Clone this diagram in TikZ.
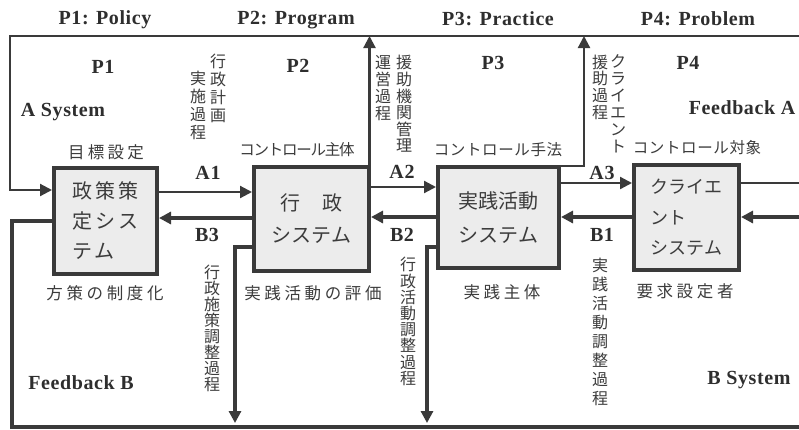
\documentclass[tikz,border=0pt]{standalone}
\usepackage{fontspec}
\setmainfont{Liberation Serif}[LetterSpace=3]
\newfontfamily\jp{Noto Sans CJK JP}
\usetikzlibrary{arrows.meta}
\definecolor{ln}{HTML}{3A3A3A}
\definecolor{bx}{HTML}{ECECEC}
\definecolor{tx}{HTML}{2E2E2E}
\definecolor{jt}{HTML}{3C3C3C}
\begin{document}
\begin{tikzpicture}[x=1pt,y=-1pt,
  every node/.style={inner sep=0pt},
  lab/.style={font=\fontsize{20}{22}\selectfont\bfseries, text=tx},
  jl/.style={font=\jp\fontsize{16.5}{18}\selectfont\addfontfeature{LetterSpace=#1}, text=jt},
  jl/.default=0,
  jk/.style={font=\jp\fontsize{15.5}{18}\selectfont\addfontfeature{LetterSpace=#1}, text=jt},
  vt/.style={font=\jp\fontsize{16}{#1}\selectfont, text=jt, align=center},
  sysbox/.style={draw=ln, line width=4pt, fill=bx},
  bxt/.style={font=\jp\fontsize{20}{#1}\selectfont, text=jt, align=left},
  thinln/.style={draw=ln, line width=2.2pt},
  thickln/.style={draw=ln, line width=4.5pt},
  arr/.style={-{Triangle[length=12pt,width=12pt]}},
]
\fill[white] (0,0) rectangle (799,429);
\useasboundingbox (0,0) rectangle (799,429);

% boxes
\node[sysbox, minimum width=103pt, minimum height=106pt, align=left,
  font=\jp\fontsize{20}{30}\selectfont\addfontfeature{LetterSpace=17}, text=jt] (b1) at (105.5,221) {政策策\\定シス\\テム};
\node[sysbox, minimum width=115pt, minimum height=104pt, bxt=32, align=center] (b2) at (311.5,219) {行\hspace{1.1em}政\\システム};
\node[sysbox, minimum width=121pt, minimum height=101pt, bxt=34, align=center] (b3) at (498.5,217.5) {実践活動\\システム};
\node[sysbox, minimum width=105pt, minimum height=105pt, align=left,
  font=\jp\fontsize{18}{30.5}\selectfont, text=jt] (b4) at (686.5,217.5) {クライエ\\ント\\システム};

% top loop
\coordinate (tr) at (799,36);
\coordinate (tl) at (10,36);
\draw[thinln, arr] (tr) -- (tl) |- (b1.west |- 0,190);
\draw[thinln, arr] ([xshift=-1.5pt]b2.north east) -- ([xshift=-1.5pt]b2.north east |- tr);
\coordinate (c3) at (584,36);
\draw[thinln, arr] ([yshift=-1pt]b3.north east) -| (c3);

% A arrows
\draw[thinln, arr] (b1.east |- 0,192) -- (b2.west |- 0,192);
\draw[thinln, arr] (b2.east |- 0,187) -- (b3.west |- 0,187);
\draw[thinln, arr] (b3.east |- 0,183) -- (b4.west |- 0,183);
\coordinate (r1) at (799,183);
\draw[thinln] (b4.east |- r1) -- (r1);

% B arrows
\draw[thickln, arr] (b2.west |- 0,218) -- (b1.east |- 0,218);
\draw[thickln, arr] (b3.west |- 0,217) -- (b2.east |- 0,217);
\draw[thickln, arr] (b4.west |- 0,217) -- (b3.east |- 0,217);
\coordinate (r2) at (799,217);
\draw[thickln, arr] (r2) -- (b4.east |- r2);

% feedback B
\coordinate (fl) at (12,427);
\coordinate (fr) at (799,427);
\draw[thickln] (b1.west |- 0,221) -| (fl) -- (fr);
\coordinate (d1) at (235,423);
\draw[thickln, arr] (b2.west |- 0,247) -| (d1);
\coordinate (d2) at (427,423);
\draw[thickln, arr] (b3.west |- 0,247) -| (d2);

% Latin labels
\node[lab] (h1) at (105,20) {P1: Policy};
\node[lab] (h2) at (296,20) {P2: Program};
\node[lab] (h3) at (498,19) {P3: Practice};
\node[lab] (h4) at (698,19) {P4: Problem};
\node[lab] (p1) at (103,67) {P1};
\node[lab] (p2) at (298,66) {P2};
\node[lab] (p3) at (493,63) {P3};
\node[lab] (p4) at (688,63) {P4};
\node[lab] (as) at (63,112) {A System};
\node[lab] (fa) at (742,108) {Feedback A};
\node[lab] (fb) at (81,383) {Feedback B};
\node[lab] (bs) at (749,380) {B System};
\node[lab] (a1) at (208,173) {A1};
\node[lab] (a2) at (402,172) {A2};
\node[lab] (a3) at (602,173) {A3};
\node[lab] (l3) at (207,235) {B3};
\node[lab] (l2) at (402,235) {B2};
\node[lab] (l1) at (602,235) {B1};

% Japanese labels
\node[jl=20] (j1) at (106,152) {目標設定};
\node[jk=-8] (j2) at (297,150) {コントロール主体};
\node[jk=4] (j3) at (498,150) {コントロール手法};
\node[jk=4] (j4) at (697,148) {コントロール対象};
\node[jl=22] (k1) at (105,293) {方策の制度化};
\node[jl=22] (k2) at (313,293) {実践活動の評価};
\node[jl=22] (k3) at (502,292) {実践主体};
\node[jl=22] (k4) at (685,291) {要求設定者};

% vertical texts
\node[vt=17.8] (v1) at (218,88.5) {行\\政\\計\\画};
\node[vt=18] (v2) at (198,105) {実\\施\\過\\程};
\node[vt=17] (v3) at (383,88) {運\\営\\過\\程};
\node[vt=16.6] (v4) at (404,104) {援\\助\\機\\関\\管\\理};
\node[vt=16.7] (v5) at (600,87) {援\\助\\過\\程};
\node[vt=17] (v6) at (618,104) {ク\\ラ\\イ\\エ\\ン\\ト};
\node[vt=16] (v7) at (212,328) {行\\政\\施\\策\\調\\整\\過\\程};
\node[vt=16.2] (v8) at (408,321.5) {行\\政\\活\\動\\調\\整\\過\\程};
\node[vt=19] (v9) at (600,331.5) {実\\践\\活\\動\\調\\整\\過\\程};
\end{tikzpicture}
\end{document}
